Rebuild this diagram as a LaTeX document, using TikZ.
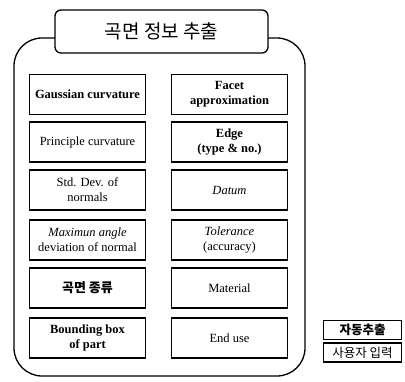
\documentclass[tikz,border=0pt]{standalone}
\usepackage{fontspec}
\setmainfont{Liberation Serif}
\newfontfamily\kr{Noto Sans CJK KR}
\begin{document}
\begin{tikzpicture}[x=1pt,y=-1pt,
  cell/.style={draw,line width=1.3pt,minimum width=116pt,minimum height=40pt,align=center,font=\fontsize{12.5}{15}\selectfont,inner sep=1pt},
  leg/.style={draw,line width=1.1pt,minimum width=78pt,minimum height=19pt,inner sep=1pt}]
\useasboundingbox (0,0) rectangle (405,381);
% outer container
\draw[line width=1.3pt,rounded corners=28pt] (14,38) rectangle (305,376);
% title
\node[draw,fill=white,line width=1.3pt,rounded corners=6pt,minimum width=213pt,minimum height=43pt,font=\kr\fontsize{19}{20}\selectfont] (title) at (161.5,31.5) {곡면 정보 추출};
% left column
\node[cell] (l1) at (87.5,94.5) {\textbf{Gaussian curvature}};
\node[cell] (l2) at (87.5,142) {Principle curvature};
\node[cell] (l3) at (87.5,190) {Std. Dev. of\\normals};
\node[cell] (l4) at (87.5,240) {\textit{Maximun angle}\\deviation of normal};
\node[cell] (l5) at (87.5,288) {\kr\bfseries\fontsize{13}{14}\selectfont 곡면 종류};
\node[cell] (l6) at (87.5,338) {\textbf{Bounding box}\\\textbf{of part}};
% right column
\node[cell] (r1) at (229.5,94.5) {\textbf{Facet}\\\textbf{approximation}};
\node[cell] (r2) at (229.5,142) {\textbf{Edge}\\\textbf{(type \& no.)}};
\node[cell] (r3) at (229.5,190) {\textit{Datum}};
\node[cell] (r4) at (229.5,240) {\textit{Tolerance}\\(accuracy)};
\node[cell] (r5) at (229.5,288) {Material};
\node[cell] (r6) at (229.5,338) {End use};
% legend
\node[leg,font=\kr\bfseries\fontsize{12.5}{13}\selectfont] (a) at (362.5,330) {자동추출};
\node[leg,font=\kr\fontsize{12.5}{13}\selectfont] (u) at (362.5,352.5) {사용자 입력};
\end{tikzpicture}
\end{document}
